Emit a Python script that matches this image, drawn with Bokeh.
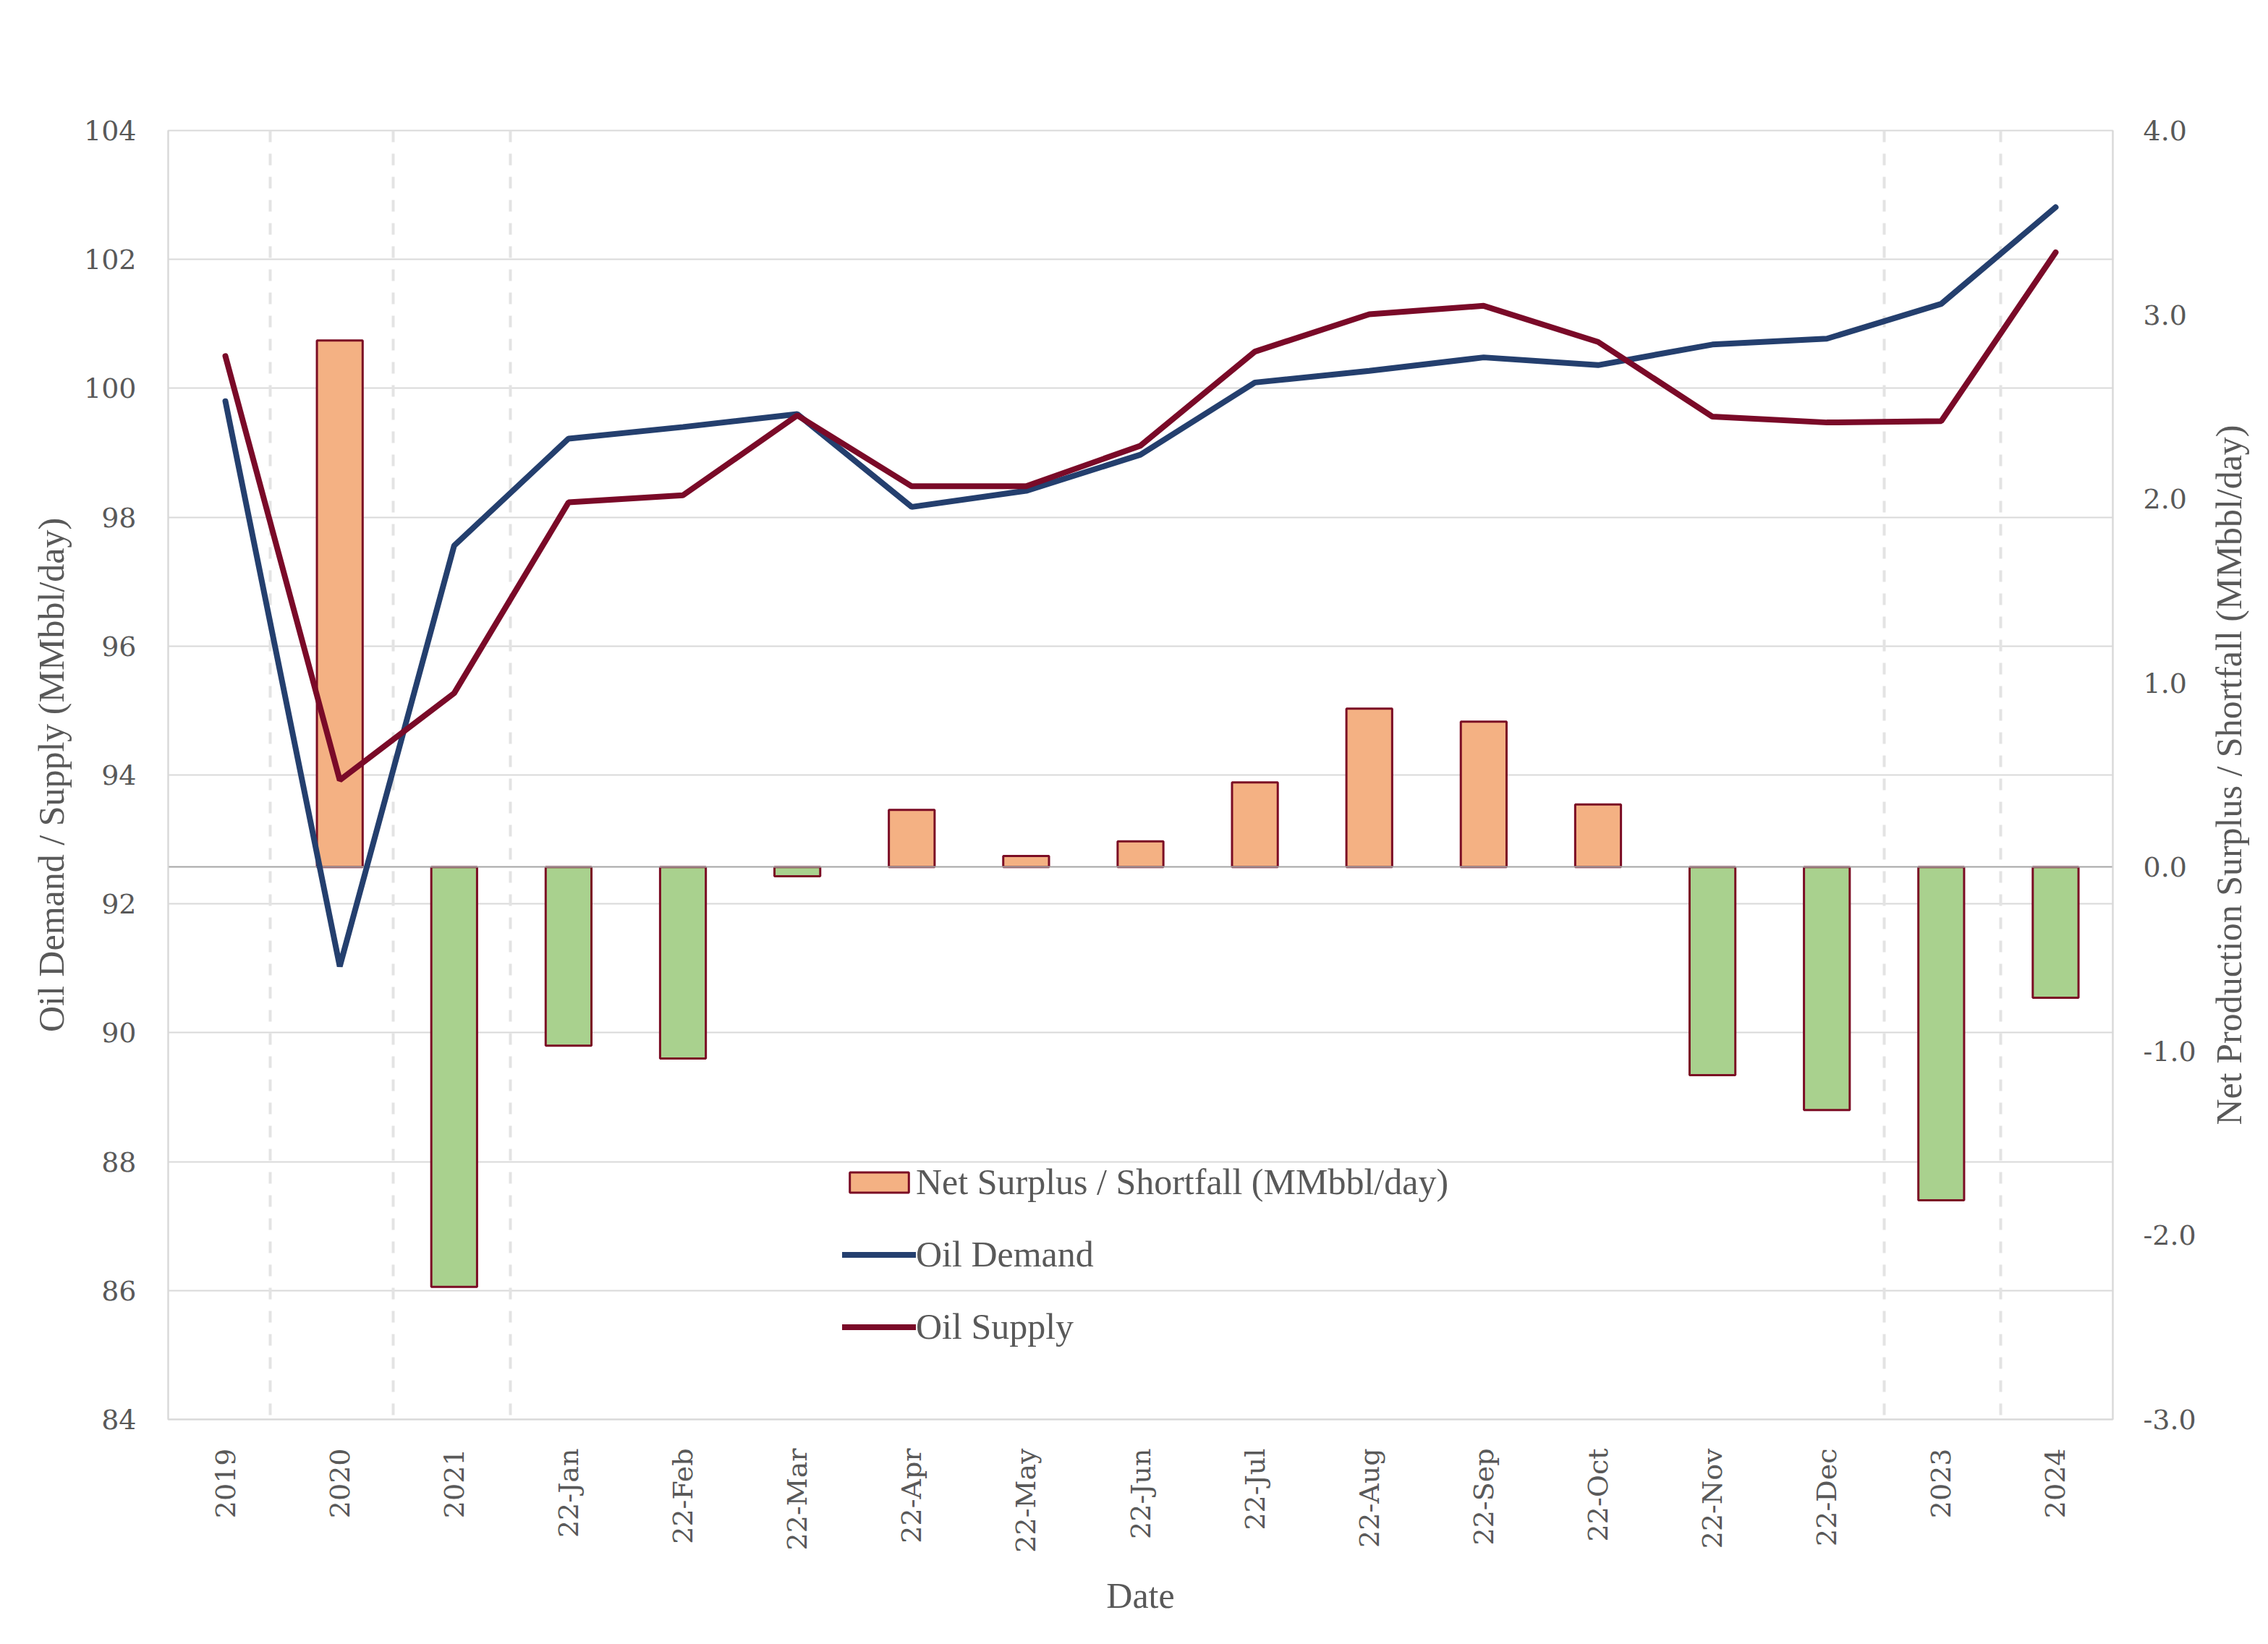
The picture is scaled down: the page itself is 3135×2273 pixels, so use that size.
import math
from bokeh.plotting import figure
from bokeh.layouts import row
from bokeh.models import (Range1d, LinearAxis, FixedTicker, NumeralTickFormatter,
                          ColumnDataSource, Legend, LegendItem)
from bokeh.embed import file_html
from bokeh.resources import INLINE

# ---------------- data ----------------
categories = ["2019", "2020", "2021", "22-Jan", "22-Feb", "22-Mar", "22-Apr", "22-May",
              "22-Jun", "22-Jul", "22-Aug", "22-Sep", "22-Oct", "22-Nov", "22-Dec",
              "2023", "2024"]
oil_demand = [99.80, 91.03, 97.56, 99.22, 99.40, 99.60, 98.16, 98.41, 98.97, 100.09,
              100.27, 100.48, 100.36, 100.68, 100.77, 101.31, 102.81]
oil_supply = [100.50, 93.92, 95.27, 98.23, 98.34, 99.58, 98.48, 98.48, 99.11, 100.57,
              101.15, 101.28, 100.72, 99.56, 99.47, 99.49, 102.11]
net_surplus = [None, 2.86, -2.28, -0.97, -1.04, -0.05, 0.31, 0.06, 0.14, 0.46,
               0.86, 0.79, 0.34, -1.13, -1.32, -1.81, -0.71]
left_ticks = [84, 86, 88, 90, 92, 94, 96, 98, 100, 102, 104]
right_ticks = [-3, -2, -1, 0, 1, 2, 3, 4]
divider_positions = [0.39, 1.47, 2.49, 14.5, 15.52]
right_title = "Net Production Surplus / Shortfall (MMbbl/day)"

# ---------------- styles ----------------
TXT = "#595959"
GRID = "#d9d9d9"
DEMAND_C = "#243F6E"
SUPPLY_C = "#7A0A28"
POS_C = "#F4B183"
NEG_C = "#A9D18E"
BAR_LINE = "#7B0C24"
TITLE_FONT = "Liberation Serif"
TICK_FONT = "DejaVu Serif"

SIDE_W = 70
W, H = 3118 - SIDE_W, 2256
TOP, BOTTOM = 180, 294
idx = list(range(len(categories)))

p = figure(width=W, height=H, output_backend="svg", toolbar_location=None,
           x_range=Range1d(-0.5, len(categories) - 0.5),
           y_range=Range1d(left_ticks[0], left_ticks[-1]),
           min_border_left=232, min_border_right=128,
           min_border_top=TOP, min_border_bottom=BOTTOM)
p.extra_y_ranges = {"right": Range1d(right_ticks[0], right_ticks[-1])}

p.background_fill_color = "white"
p.border_fill_color = "white"
p.outline_line_color = GRID
p.outline_line_width = 2

# grid
p.xgrid.grid_line_color = None
p.ygrid.grid_line_color = GRID
p.ygrid.grid_line_width = 2
p.ygrid.ticker = FixedTicker(ticks=left_ticks)

# left axis
ya = p.yaxis[0]
ya.ticker = FixedTicker(ticks=left_ticks)
ya.axis_label = "Oil Demand / Supply (MMbbl/day)"
ya.axis_label_text_font = TITLE_FONT
ya.axis_label_text_font_size = "50px"
ya.axis_label_text_font_style = "normal"
ya.axis_label_text_color = TXT
ya.axis_label_standoff = 14
ya.major_label_text_font = TICK_FONT
ya.major_label_text_font_size = "38px"
ya.major_label_text_color = TXT
ya.major_label_standoff = 44
ya.axis_line_color = GRID
ya.axis_line_width = 2
ya.major_tick_line_color = None
ya.minor_tick_line_color = None
ya.major_tick_out = 0
ya.major_tick_in = 0

# right axis
ra = LinearAxis(y_range_name="right", ticker=FixedTicker(ticks=right_ticks),
                formatter=NumeralTickFormatter(format="0.0"))
ra.major_label_text_font = TICK_FONT
ra.major_label_text_font_size = "38px"
ra.major_label_text_color = TXT
ra.major_label_standoff = 42
ra.axis_line_color = GRID
ra.axis_line_width = 2
ra.major_tick_line_color = None
ra.minor_tick_line_color = None
ra.major_tick_out = 0
ra.major_tick_in = 0
p.add_layout(ra, "right")

# bottom axis
xa = p.xaxis[0]
xa.ticker = FixedTicker(ticks=idx)
xa.major_label_overrides = {i: c for i, c in zip(idx, categories)}
xa.major_label_orientation = math.pi / 2
xa.axis_label = "Date"
xa.axis_label_text_font = TITLE_FONT
xa.axis_label_text_font_size = "50px"
xa.axis_label_text_font_style = "normal"
xa.axis_label_text_color = TXT
xa.axis_label_standoff = 28
xa.major_label_text_font = TICK_FONT
xa.major_label_text_font_size = "38px"
xa.major_label_text_color = TXT
xa.major_label_standoff = 40
xa.axis_line_color = GRID
xa.axis_line_width = 2
xa.major_tick_line_color = None
xa.minor_tick_line_color = None
xa.major_tick_out = 0
xa.major_tick_in = 0

# dashed dividers
p.vspan(x=divider_positions, line_color="#e3e3e3", line_width=4, line_dash="16 16")

# bars
pos_src = ColumnDataSource(dict(
    x=[i for i, v in zip(idx, net_surplus) if v is not None and v >= 0],
    top=[v for v in net_surplus if v is not None and v >= 0]))
neg_src = ColumnDataSource(dict(
    x=[i for i, v in zip(idx, net_surplus) if v is not None and v < 0],
    top=[v for v in net_surplus if v is not None and v < 0]))
pos_bars = p.vbar(x="x", top="top", bottom=0, width=0.4, source=pos_src,
                  y_range_name="right", fill_color=POS_C, line_color=BAR_LINE, line_width=3)
neg_bars = p.vbar(x="x", top="top", bottom=0, width=0.4, source=neg_src,
                  y_range_name="right", fill_color=NEG_C, line_color=BAR_LINE, line_width=3)

# zero line on right axis
p.hspan(y=[0], y_range_name="right", line_color="#a6a6a6", line_width=2)

# lines
demand_line = p.line(idx, oil_demand, line_color=DEMAND_C, line_width=8, line_cap="round")
supply_line = p.line(idx, oil_supply, line_color=SUPPLY_C, line_width=8, line_cap="round")

legend = Legend(items=[
    LegendItem(label="Net Surplus / Shortfall (MMbbl/day)", renderers=[pos_bars]),
    LegendItem(label="Oil Demand", renderers=[demand_line]),
    LegendItem(label="Oil Supply", renderers=[supply_line]),
], location=(932, 99))
legend.background_fill_alpha = 0
legend.border_line_alpha = 0
legend.padding = 0
legend.margin = 0
legend.spacing = 42
legend.glyph_width = 102
legend.glyph_height = 35
legend.label_height = 50
legend.label_standoff = 0
legend.label_text_font = TITLE_FONT
legend.label_text_font_size = "50px"
legend.label_text_color = TXT
p.add_layout(legend)

# side strip carrying the right-hand title (reads bottom-to-top, like the reference)
side = figure(width=SIDE_W, height=H, output_backend="svg", toolbar_location=None,
              x_range=Range1d(0, 1), y_range=Range1d(right_ticks[0], right_ticks[-1]),
              min_border_left=60, min_border_right=0,
              min_border_top=TOP, min_border_bottom=BOTTOM)
side.outline_line_color = None
side.background_fill_color = "white"
side.border_fill_color = "white"
side.grid.visible = False
side.xaxis.visible = False
sa = side.yaxis[0]
sa.ticker = FixedTicker(ticks=[])
sa.axis_line_color = None
sa.major_tick_line_color = None
sa.minor_tick_line_color = None
sa.major_tick_out = 0
sa.major_tick_in = 0
sa.major_label_standoff = 0
sa.axis_label = right_title
sa.axis_label_standoff = 0
sa.axis_label_text_font = TITLE_FONT
sa.axis_label_text_font_size = "50px"
sa.axis_label_text_font_style = "normal"
sa.axis_label_text_color = TXT

layout = row(p, side, spacing=0)
open("out.html", "w").write(file_html(layout, INLINE))
